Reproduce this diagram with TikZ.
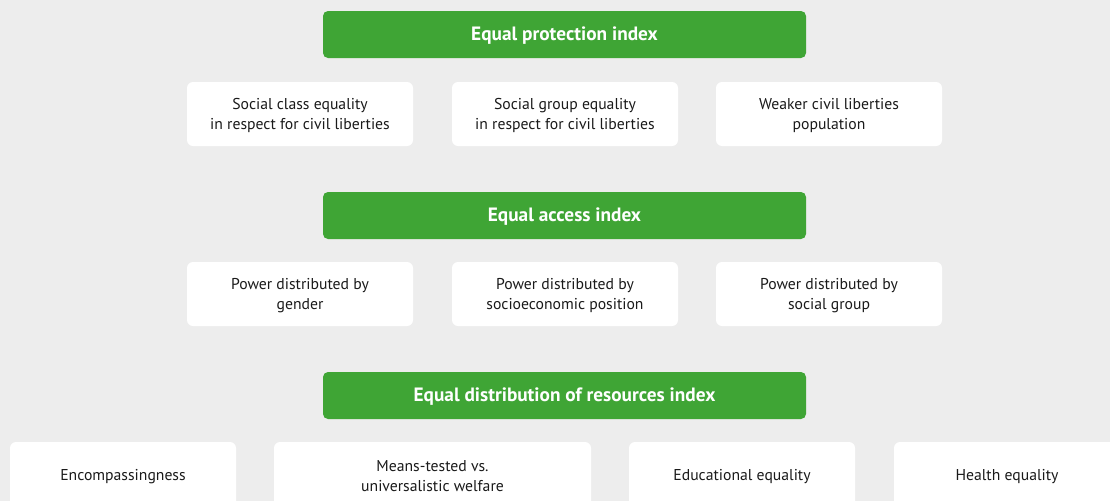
\documentclass[tikz,border=0pt]{standalone}
\usepackage{fontspec}
\setmainfont{PT Sans}
\definecolor{bg}{HTML}{EDEDED}
\definecolor{grn}{HTML}{3FA535}
\definecolor{txt}{HTML}{1A1A1A}
\begin{document}
\begin{tikzpicture}[x=1pt,y=-1pt,
  head/.style={fill=grn,rounded corners=5pt,minimum width=483pt,minimum height=47pt,inner sep=0pt},
  headtext/.style={text=white,inner sep=0pt,font=\fontsize{19.3}{20}\selectfont\bfseries},
  item/.style={fill=white,rounded corners=6pt,minimum width=226pt,minimum height=64pt,inner sep=0pt},
  itemtext/.style={text=txt,align=center,inner sep=0pt,font=\fontsize{15.7}{20}\selectfont},
  wideitem/.style={item,minimum width=317pt},
  tallitem/.style={minimum height=66pt}]
\useasboundingbox (0,0) rectangle (1110,501);
\clip (0,0) rectangle (1110,501);
\fill[bg] (0,0) rectangle (1110,501);
\node[head] (h1) at (564.5,34.5) {};
\node[headtext] (h1t) at ([yshift=-1.5pt]h1.center) {Equal protection index};
\node[item] (a1) at (300,114) {};
\node[itemtext] (a1t) at ([yshift=-1.5pt]a1.center) {Social class equality\\in respect for civil liberties};
\node[item] (a2) at (565,114) {};
\node[itemtext] (a2t) at ([yshift=-1.5pt]a2.center) {Social group equality\\in respect for civil liberties};
\node[item] (a3) at (829,114) {};
\node[itemtext] (a3t) at ([yshift=-1.5pt]a3.center) {Weaker civil liberties\\population};
\node[head] (h2) at (564.5,215.5) {};
\node[headtext] (h2t) at ([yshift=-1.5pt]h2.center) {Equal access index};
\node[item] (b1) at (300,294) {};
\node[itemtext] (b1t) at ([yshift=-1.5pt]b1.center) {Power distributed by\\gender};
\node[item] (b2) at (565,294) {};
\node[itemtext] (b2t) at ([yshift=-1.5pt]b2.center) {Power distributed by\\socioeconomic position};
\node[item] (b3) at (829,294) {};
\node[itemtext] (b3t) at ([yshift=-1.5pt]b3.center) {Power distributed by\\social group};
\node[head] (h3) at (564.5,395.5) {};
\node[headtext] (h3t) at ([yshift=-1.5pt]h3.center) {Equal distribution of resources index};
\node[item,tallitem] (c1) at (123,475) {};
\node[itemtext] (c1t) at ([yshift=-1.5pt]c1.center) {Encompassingness};
\node[wideitem,tallitem] (c2) at (432.5,475) {};
\node[itemtext] (c2t) at ([yshift=-1.5pt]c2.center) {Means-tested vs.\\universalistic welfare};
\node[item,tallitem] (c3) at (742,475) {};
\node[itemtext] (c3t) at ([yshift=-1.5pt]c3.center) {Educational equality};
\node[item,tallitem] (c4) at (1007,475) {};
\node[itemtext] (c4t) at ([yshift=-1.5pt]c4.center) {Health equality};
\end{tikzpicture}
\end{document}
